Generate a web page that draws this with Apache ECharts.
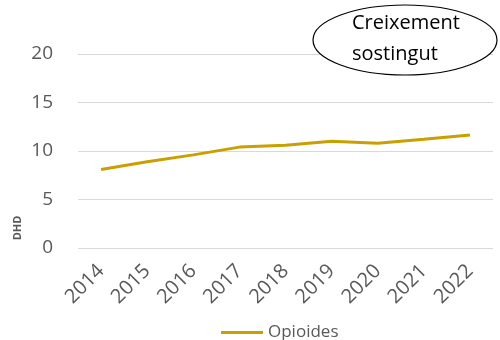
<!DOCTYPE html>
<html><head><meta charset="utf-8">
<script src="https://cdn.jsdelivr.net/npm/echarts@6/dist/echarts.min.js"></script>
<style>html,body{margin:0;padding:0;background:#fff}#c{width:500px;height:340px}</style>
</head><body><div id="c"></div>
<script>
var years = ['2014','2015','2016','2017','2018','2019','2020','2021','2022'];
var opioides = [8.1, 8.9, 9.6, 10.4, 10.6, 11.0, 10.8, 11.2, 11.65];
var yTicks = [0, 5, 10, 15, 20];
var seriesName = 'Opioides';
var chart = echarts.init(document.getElementById('c'));
var font = '"Open Sans", "Liberation Sans", sans-serif';
chart.setOption({
  animation: false,
  grid: {left: 78, right: 7, top: 54, bottom: 92},
  legend: {
    data: [seriesName], top: 319, left: 216, itemWidth: 42, itemHeight: 3, itemGap: 3,
    icon: 'rect',
    textStyle: {color: '#595959', fontSize: 17, fontFamily: font}
  },
  xAxis: {
    type: 'category', data: years, boundaryGap: true,
    axisLine: {show: false}, axisTick: {show: false},
    axisLabel: {rotate: 45, color: '#595959', fontSize: 20, fontFamily: font, margin: 20}
  },
  yAxis: {
    type: 'value', min: yTicks[0], max: yTicks[yTicks.length-1], interval: 5,
    axisLine: {show: false}, axisTick: {show: false},
    axisLabel: {color: '#595959', fontSize: 19, fontFamily: font, margin: 25},
    splitLine: {lineStyle: {color: '#d9d9d9', width: 1}}
  },
  series: [{
    name: seriesName, type: 'line', data: opioides, symbol: 'none',
    lineStyle: {color: '#c9a000', width: 3}, itemStyle: {color: '#c9a000'}
  }],
  graphic: [
    {type: 'text', x: 18, y: 228, rotation: Math.PI/2, z: 50,
     style: {text: 'DHD', fill: '#595959', fontSize: 11, fontWeight: 'bold', fontFamily: font, align: 'center', verticalAlign: 'middle'}},
    {type: 'ellipse', shape: {cx: 405, cy: 40, rx: 92, ry: 35},
     style: {fill: '#fff', stroke: '#000', lineWidth: 1.2}, z: 100},
    {type: 'text', left: 352, top: 8, z: 101,
     style: {text: 'Creixement\nsostingut', fill: '#000', fontSize: 20, lineHeight: 31, fontFamily: font}}
  ]
});
</script></body></html>
